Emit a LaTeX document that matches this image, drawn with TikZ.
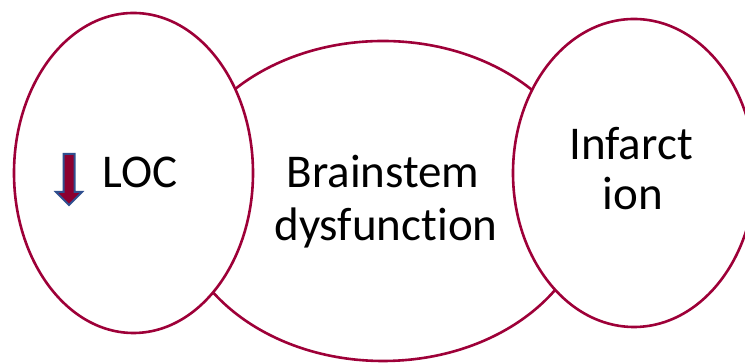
\documentclass[tikz,border=0pt]{standalone}
\usepackage{fontspec}
\setmainfont[Ligatures=NoCommon]{Carlito}
\usetikzlibrary{shapes.geometric}
\definecolor{ring}{HTML}{9E0038}
\definecolor{arrowfill}{HTML}{8C0030}
\definecolor{arrowedge}{HTML}{2F4F8F}
\begin{document}
\begin{tikzpicture}[x=1pt,y=1pt,
  ring/.style={draw=ring,line width=2.6pt,fill=white,ellipse,inner sep=0pt},
  lbl/.style={font=\fontsize{47}{52}\selectfont,text=black,inner sep=0pt,anchor=base},
  downarrow/.style={draw=arrowedge,fill=arrowfill,line width=2pt,line join=miter}]
\useasboundingbox (0,0) rectangle (745,363);
\begin{scope}
\clip (0,0) rectangle (745,363);
\node[ring,minimum width=414,minimum height=320] (mid) at (383,162) {};
\node[ring,minimum width=239,minimum height=320] (left) at (133.5,190) {};
\node[ring,minimum width=242,minimum height=308] (right) at (634,190) {};
\end{scope}
\node[lbl] (t1) at (383,175) {Brainstem};
\node[lbl] (t2) at (386,122) {dysfunction};
\node[lbl] (t3) at (140,175) {LOC};
\node[lbl] (t4) at (631,203) {Infarct};
\node[lbl] (t5) at (633,153) {ion};
\draw[downarrow] (63.5,209) -- (74.5,209) -- (74.5,171) -- (82,171) -- (69,158)
  -- (56,171) -- (63.5,171) -- cycle;
\end{tikzpicture}
\end{document}
